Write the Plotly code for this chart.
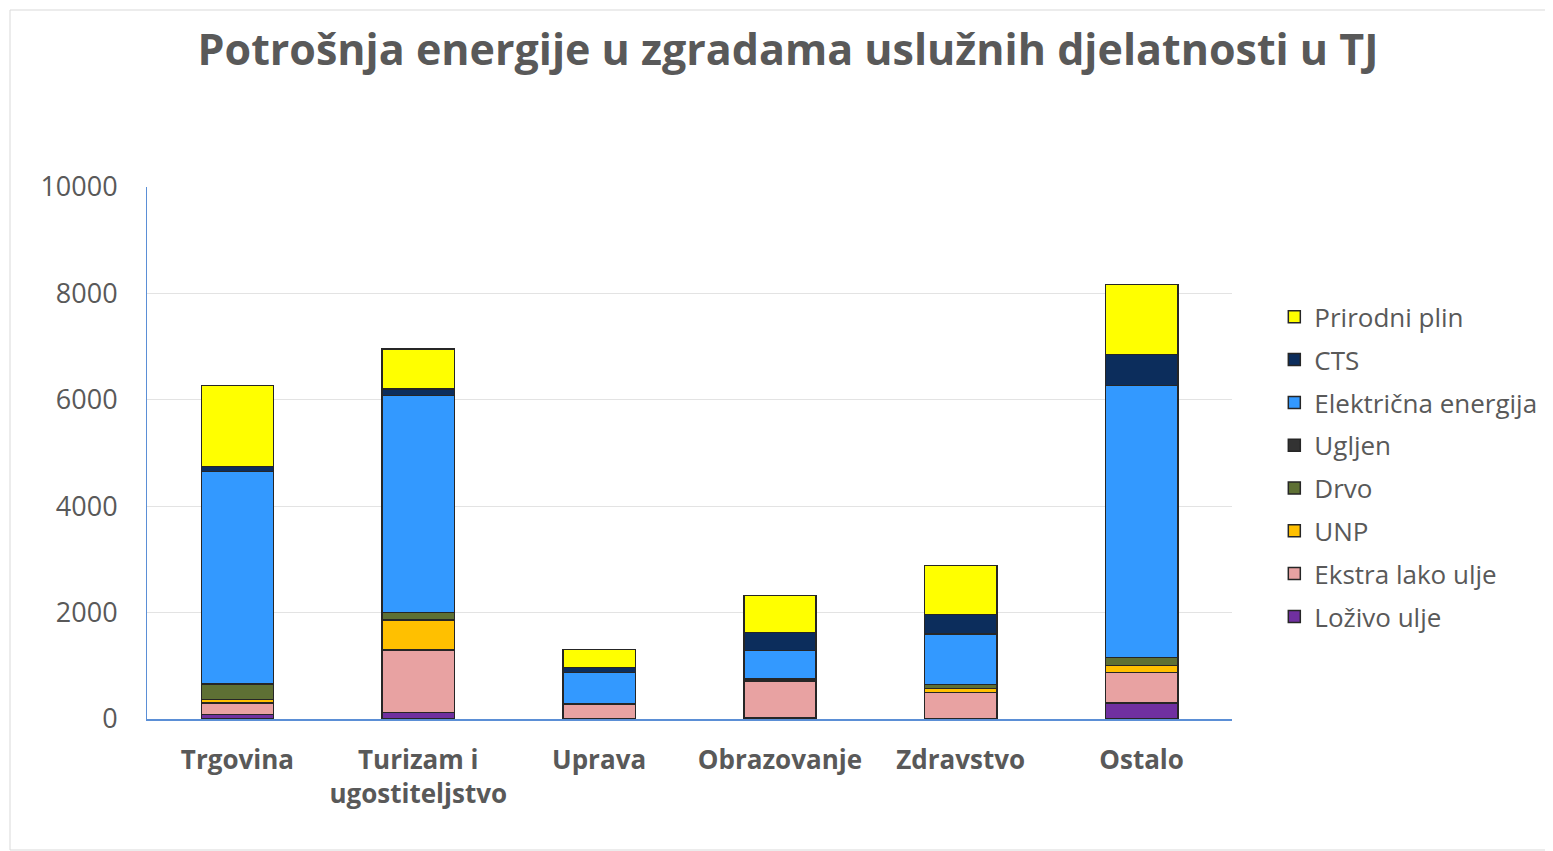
import plotly.graph_objects as go

categories = ["Trgovina", "Turizam i<br>ugostiteljstvo", "Uprava", "Obrazovanje", "Zdravstvo", "Ostalo"]

lozivo_ulje = [80, 126, 10, 30, 10, 300]
ekstra_lako_ulje = [220, 1171, 270, 680, 490, 578]
unp = [70, 564, 0, 0, 76, 124]
drvo = [282, 137, 0, 20, 75, 157]
ugljen = [10, 0, 15, 20, 0, 0]
elektricna = [3990, 4079, 583, 534, 946, 5107]
cts = [94, 126, 87, 346, 370, 589]
prirodni_plin = [1523, 752, 345, 688, 914, 1316]

y_ticks = [0, 2000, 4000, 6000, 8000, 10000]

series = [
    ("Loživo ulje", lozivo_ulje, "#7030A0"),
    ("Ekstra lako ulje", ekstra_lako_ulje, "#E8A2A2"),
    ("UNP", unp, "#FFC000"),
    ("Drvo", drvo, "#5E7034"),
    ("Ugljen", ugljen, "#333333"),
    ("Električna energija", elektricna, "#3399FF"),
    ("CTS", cts, "#0C2D5C"),
    ("Prirodni plin", prirodni_plin, "#FFFF00"),
]

fig = go.Figure()
n = len(series)
for i, (name, vals, color) in enumerate(series):
    fig.add_trace(go.Bar(
        x=categories, y=vals, name=name, legendgroup=name,
        legendrank=(n - i) * 10,
        marker=dict(color=color, line=dict(color="#262626", width=1.5)),
        width=0.4,
    ))

gray = "#595959"
fig.update_layout(
    width=1553, height=851,
    barmode="stack",
    paper_bgcolor="white", plot_bgcolor="white",
    margin=dict(l=139, r=329, t=179, b=140),
    font=dict(family="Open Sans, Lato, sans-serif", color=gray),
    title=dict(
        text="<b>Potrošnja energije u zgradama uslužnih djelatnosti u TJ</b>",
        x=(788 - 8) / 1553, xanchor="center", y=1 - 42 / 851, yanchor="middle",
        font=dict(size=43, color=gray, family="Open Sans, sans-serif"),
    ),
    legend=dict(
        x=1.039, xanchor="left", y=0.80, yanchor="top",
        traceorder="grouped",
        tracegroupgap=6,
        font=dict(size=26, color=gray),
        itemwidth=30,
        bgcolor="rgba(0,0,0,0)",
    ),
    yaxis=dict(
        range=[0, 10000], tickvals=y_ticks, ticktext=[str(v) for v in y_ticks],
        showgrid=True, gridcolor="#e3e3e3", gridwidth=1,
        showline=True, linecolor="#5b8fd6", linewidth=1,
        tickfont=dict(size=27, color=gray),
        ticks="", ticklabelstandoff=23, zeroline=False,
    ),
    xaxis=dict(
        showline=True, linecolor="#5b8fd6", linewidth=1.5,
        tickfont=dict(size=26, color=gray, family="Open Sans, sans-serif"),
        ticks="", ticklabelstandoff=17,
        tickvals=categories,
        ticktext=["<b>" + c + "</b>" for c in categories],
    ),
    shapes=[dict(
        type="rect", xref="paper", yref="paper",
        x0=(10 - 147) / 1085, x1=(1552 - 147) / 1085,
        y0=(719 - 850) / 532, y1=(719 - 10) / 532,
        line=dict(color="#d9d9d9", width=1), fillcolor="rgba(0,0,0,0)", layer="below",
    )],
)

fig.write_html("out.html")
